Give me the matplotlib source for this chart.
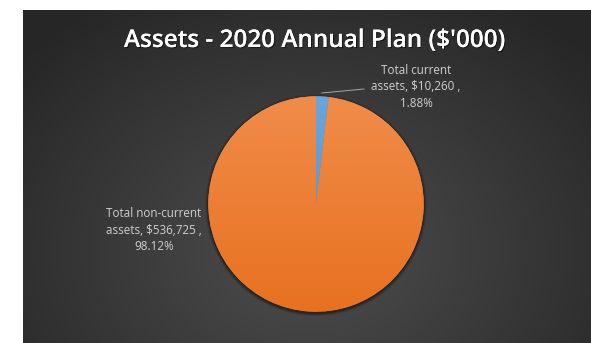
import numpy as np
import matplotlib
matplotlib.use("Agg")
import matplotlib.pyplot as plt
from matplotlib.colors import LinearSegmentedColormap
from matplotlib.patches import Circle
import matplotlib.patheffects as pe

# Chart data ($'000)
categories = ["Total current assets", "Total non-current assets"]
values = [10260, 536725]
slice_colors = ["#5B9BD5", "#ED7D31"]
title = "Assets - 2020 Annual Plan ($'000)"

W, H = 591, 343
fig = plt.figure(figsize=(W / 100, H / 100), dpi=100, facecolor="white")

# Dark panel with a soft radial glow
left_px, top_px = 23, 10
bg = fig.add_axes([left_px / W, 0, 1 - left_px / W, 1 - top_px / H], zorder=0)
ny, nx = 333, 568
yy, xx = np.mgrid[0:ny, 0:nx]
cx, cy = 285, 240
r = np.sqrt(((xx - cx) / 380) ** 2 + ((yy - cy) / 300) ** 2)
r = np.clip(r, 0, 1)
dark = np.array([0x26, 0x26, 0x26]) / 255
light = np.array([0x4e, 0x4e, 0x4e]) / 255
img = light[None, None, :] * (1 - r[..., None]) + dark[None, None, :] * r[..., None]
bg.imshow(img, extent=[0, nx, ny, 0], aspect="auto", interpolation="bilinear")
bg.set_xlim(0, nx)
bg.set_ylim(ny, 0)
bg.axis("off")

total = sum(values)
pcts = [v / total * 100 for v in values]
label_txt = [
    f"Total current\nassets, ${values[0]:,} ,\n{pcts[0]:.2f}%",
    f"Total non-current\nassets, ${values[1]:,} ,\n{pcts[1]:.2f}%",
]

font = "Open Sans"
lab_kw = dict(color="#d0d0d0", fontsize=8.4, family=font, ha="center", va="center",
              linespacing=1.38, transform=fig.transFigure, zorder=1)
fig.text(416 / W, 1 - 87 / H, label_txt[0], **lab_kw)
fig.text(154 / W, 1 - 230 / H, label_txt[1], **lab_kw)

# Leader line for the thin slice
fig.add_artist(plt.Line2D([322 / W, 364 / W], [1 - 93 / H, 1 - 89 / H],
                          color="#a6a6a6", lw=0.7, transform=fig.transFigure, zorder=1))

# Pie
pcx, pcy, pr = 316, 204, 112
ax = fig.add_axes([(pcx - pr) / W, 1 - (pcy + pr) / H, 2 * pr / W, 2 * pr / H], zorder=2)
ax.patch.set_alpha(0)
# soft drop shadow under the pie
for k, a in [(1.03, 0.10), (1.02, 0.15), (1.01, 0.25)]:
    ax.add_patch(Circle((0.0, -0.012), k, color="black", alpha=a, lw=0, zorder=0))
wedges, _ = ax.pie(values, colors=slice_colors, startangle=90, counterclock=False,
                   radius=1, wedgeprops=dict(linewidth=0))
lim = 1.04
ax.set_aspect("equal")
ax.axis("off")

# Vertical shading on each slice
for w, top, bot in [(wedges[0], "#6aa6dc", "#4f8fcb"), (wedges[1], "#F08C4A", "#E8711F")]:
    cmap = LinearSegmentedColormap.from_list("shade", [bot, top])
    grad = np.linspace(0, 1, 256)[:, None]
    im = ax.imshow(grad, extent=[-1, 1, -1, 1], origin="lower", cmap=cmap, aspect="auto", zorder=3)
    im.set_clip_path(w)
ax.set_xlim(-lim, lim)
ax.set_ylim(-lim, lim)

fig.text(314 / W, 1 - 47 / H, title, color="white", fontsize=17.5, fontweight="semibold",
         family=font, ha="center", va="baseline", zorder=3,
         path_effects=[pe.withSimplePatchShadow(offset=(0.8, -0.8), shadow_rgbFace="black", alpha=0.5),
                       pe.Normal()])

fig.savefig("out.png", dpi=100, facecolor="white")
